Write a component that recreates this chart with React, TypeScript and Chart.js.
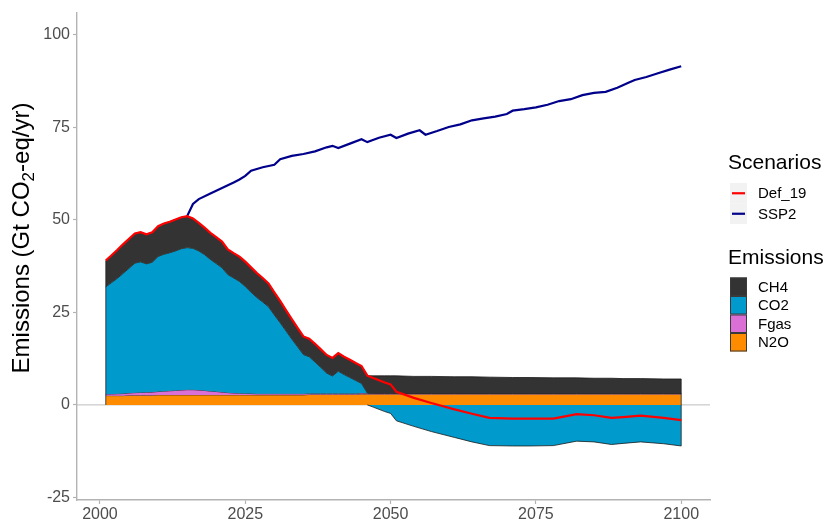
import { useEffect, useRef } from "react";
import { Chart, registerables } from "chart.js";

Chart.register(...registerables);

// ---------- data ----------
const years = [
  2001, 2002, 2003, 2004, 2005, 2006, 2007, 2008, 2009, 2010,
  2011, 2012, 2013, 2014, 2015, 2016, 2017, 2018, 2019, 2020,
  2021, 2022, 2023, 2024, 2025, 2026, 2027, 2028, 2029, 2030,
  2031, 2032, 2033, 2034, 2035, 2036, 2037, 2038, 2039, 2040,
  2041, 2042, 2043, 2044, 2045, 2046, 2047, 2048, 2049, 2050,
  2051, 2054, 2057, 2061, 2064, 2067, 2071, 2074, 2078, 2082,
  2085, 2088, 2090, 2093, 2097, 2100,
];

const n2o = [
  2.5, 2.5, 2.5, 2.5, 2.6, 2.6, 2.6, 2.6, 2.6, 2.7,
  2.7, 2.7, 2.7, 2.7, 2.7, 2.7, 2.7, 2.7, 2.7, 2.7,
  2.7, 2.7, 2.7, 2.7, 2.7, 2.7, 2.7, 2.7, 2.7, 2.7,
  2.7, 2.7, 2.7, 2.7, 2.7, 2.8, 2.8, 2.8, 2.8, 2.8,
  2.8, 2.8, 2.8, 2.8, 2.9, 2.9, 2.9, 2.9, 2.9, 2.9,
  2.9, 2.9, 2.9, 2.9, 2.9, 2.9, 2.9, 2.9, 2.9, 2.9,
  2.9, 2.9, 2.9, 2.9, 2.9, 2.9,
];

const fgas = [
  0.4, 0.45, 0.5, 0.55, 0.6, 0.7, 0.75, 0.8, 0.85, 0.9,
  1.0, 1.1, 1.2, 1.3, 1.4, 1.4, 1.3, 1.2, 1.0, 0.9,
  0.75, 0.6, 0.5, 0.45, 0.4, 0.35, 0.3, 0.3, 0.3, 0.3,
  0.3, 0.3, 0.3, 0.3, 0.3, 0.3, 0.3, 0.3, 0.3, 0.3,
  0.3, 0.3, 0.3, 0.3, 0.3, 0.25, 0.25, 0.25, 0.25, 0.25,
  0.25, 0.2, 0.2, 0.2, 0.2, 0.2, 0.2, 0.2, 0.2, 0.2,
  0.2, 0.2, 0.2, 0.2, 0.2, 0.2,
];

const co2 = [
  29.0, 30.1, 31.2, 32.5, 33.7, 35.0, 35.3, 34.7, 35.1, 36.5,
  37.0, 37.3, 37.7, 38.2, 38.4, 38.2, 37.6, 36.7, 35.6, 34.6,
  33.6, 31.9, 31.1, 30.2, 28.9, 27.4, 26.0, 24.8, 23.5, 21.3,
  19.2, 17.0, 14.8, 12.7, 10.6, 9.9, 8.5, 7.0, 5.5, 4.7,
  6.0, 5.1, 4.3, 3.5, 2.6, 0.05, -0.6, -1.2, -1.8, -2.3,
  -4.3, -5.8, -7.2, -8.8, -10.0, -11.0, -11.1, -11.1, -11.0, -9.8,
  -10.0, -10.7, -10.4, -10.0, -10.5, -11.1,
];

const ch4 = [
  7.1, 7.4, 7.7, 7.9, 8.0, 8.0, 8.0, 8.0, 8.1, 8.2,
  8.3, 8.4, 8.5, 8.5, 8.5, 8.1, 7.6, 7.3, 7.2, 7.1,
  7.1, 6.8, 6.7, 6.7, 6.7, 6.7, 6.6, 6.5, 6.3, 6.1,
  5.9, 5.6, 5.4, 5.1, 4.9, 4.9, 4.9, 4.9, 4.9, 4.9,
  4.9, 4.8, 4.8, 4.7, 4.7, 4.7, 4.7, 4.7, 4.7, 4.7,
  4.7, 4.6, 4.6, 4.5, 4.5, 4.4, 4.3, 4.3, 4.2, 4.2,
  4.1, 4.1, 4.0, 4.0, 3.9, 3.9,
];

const sspYears = [
  2015, 2016, 2017, 2019, 2021, 2023, 2024, 2025, 2026, 2028,
  2030, 2031, 2033, 2035, 2037, 2039, 2040, 2041, 2043, 2045,
  2046, 2048, 2050, 2051, 2053, 2055, 2056, 2058, 2060, 2062,
  2064, 2066, 2068, 2070, 2071, 2073, 2075, 2077, 2079, 2081,
  2083, 2085, 2087, 2089, 2091, 2092, 2094, 2096, 2098, 2100,
];
const ssp2 = [
  51.0, 54.3, 55.6, 57.1, 58.6, 60.1, 60.9, 61.9, 63.3, 64.2,
  64.9, 66.4, 67.3, 67.8, 68.5, 69.6, 70.0, 69.4, 70.6, 71.8,
  71.0, 72.2, 73.0, 72.1, 73.3, 74.2, 73.0, 74.0, 75.1, 75.8,
  76.9, 77.4, 77.9, 78.6, 79.5, 79.9, 80.4, 81.1, 82.1, 82.6,
  83.7, 84.3, 84.6, 85.7, 87.1, 87.8, 88.6, 89.6, 90.6, 91.5,
];

const xTicks = [2000, 2025, 2050, 2075, 2100];
const yTicks = [-25, 0, 25, 50, 75, 100];

const scenarioNames = ["Def_19", "SSP2"];
const scenarioColors = ["#FF0000", "#00008B"];
const gasNames = ["CH4", "CO2", "Fgas", "N2O"];
const gasColors = ["#333333", "#009ACD", "#DA70D6", "#FF8C00"];

const FONT = '"Liberation Sans", Arial, Helvetica, sans-serif';

export default function App() {
  const ref = useRef<HTMLCanvasElement>(null);

  useEffect(() => {
    if (!ref.current) return;
    const pts = (ys: (number | null)[], xs: number[] = years) =>
      xs.map((x, i) => ({ x, y: ys[i] }));

    const b1 = n2o.slice();
    const b2 = n2o.map((v, i) => v + fgas[i]);
    const b3 = b2.map((v, i) => v + Math.max(co2[i], 0));
    const b4 = b3.map((v, i) => v + ch4[i]);
    const neg = co2.map((v, i) =>
      v < 0 || (i + 1 < co2.length && co2[i + 1] < 0) ? Math.min(v, 0) : null
    );
    const def19 = years.map((_, i) => n2o[i] + fgas[i] + co2[i] + ch4[i]);

    const outline = "#1a1a1a";
    const areaBase = {
      borderColor: outline,
      borderWidth: 0.8,
      pointRadius: 0,
      tension: 0,
    };

    const decor = {
      id: "decor",
      beforeDatasetsDraw(chart: any) {
        const { ctx, chartArea, scales } = chart;
        const y0 = scales.y.getPixelForValue(0);
        ctx.save();
        ctx.strokeStyle = "#bdbdbd";
        ctx.lineWidth = 1;
        ctx.beginPath();
        ctx.moveTo(chartArea.left, y0);
        ctx.lineTo(chartArea.right, y0);
        ctx.stroke();
        ctx.restore();
      },
      afterDatasetDraw(chart: any, args: any) {
        if (args.index !== 4) return;
        const { ctx, scales } = chart;
        const n = years.length - 1;
        ctx.save();
        ctx.strokeStyle = outline;
        ctx.lineWidth = 0.8;
        const edge = (i: number) => {
          const x = scales.x.getPixelForValue(years[i]);
          ctx.beginPath();
          ctx.moveTo(x, scales.y.getPixelForValue(Math.min(co2[i], 0)));
          ctx.lineTo(x, scales.y.getPixelForValue(b4[i]));
          ctx.stroke();
        };
        edge(0);
        edge(n);
        ctx.restore();
      },
      afterDraw(chart: any) {
        const { ctx } = chart;
        ctx.save();
        // y-axis title with subscript
        const big = 24;
        const small = 17;
        const p1 = "Emissions (Gt CO";
        const p2 = "2";
        const p3 = "-eq/yr)";
        ctx.font = `${big}px ${FONT}`;
        const w1 = ctx.measureText(p1).width;
        const w3 = ctx.measureText(p3).width;
        ctx.font = `${small}px ${FONT}`;
        const w2 = ctx.measureText(p2).width;
        const total = w1 + w2 + w3;
        ctx.translate(29, 238);
        ctx.rotate(-Math.PI / 2);
        ctx.fillStyle = "#000";
        ctx.textBaseline = "alphabetic";
        ctx.textAlign = "left";
        let x = -total / 2;
        ctx.font = `${big}px ${FONT}`;
        ctx.fillText(p1, x, 0);
        x += w1;
        ctx.font = `${small}px ${FONT}`;
        ctx.fillText(p2, x, 5);
        x += w2;
        ctx.font = `${big}px ${FONT}`;
        ctx.fillText(p3, x, 0);
        ctx.restore();

        // legend
        ctx.save();
        ctx.fillStyle = "#000";
        ctx.textAlign = "left";
        ctx.textBaseline = "alphabetic";
        ctx.font = `21px ${FONT}`;
        ctx.fillText("Scenarios", 728, 169);
        ctx.textBaseline = "middle";
        scenarioNames.forEach((name, i) => {
          const top = 183 + i * 20.5;
          ctx.fillStyle = "#f2f2f2";
          ctx.fillRect(730, top, 17, 20.5);
          ctx.strokeStyle = scenarioColors[i];
          ctx.lineWidth = 2.2;
          ctx.beginPath();
          ctx.moveTo(732, top + 10.25);
          ctx.lineTo(745, top + 10.25);
          ctx.stroke();
          ctx.fillStyle = "#000";
          ctx.font = `15px ${FONT}`;
          ctx.fillText(name, 758, top + 11);
        });
        ctx.textBaseline = "alphabetic";
        ctx.font = `21px ${FONT}`;
        ctx.fillText("Emissions", 728, 264);
        ctx.textBaseline = "middle";
        gasNames.forEach((name, i) => {
          const top = 277.5 + i * 18.5;
          ctx.fillStyle = gasColors[i];
          ctx.fillRect(730, top, 17, 18.5);
          ctx.strokeStyle = "#3a3a3a";
          ctx.lineWidth = 1;
          ctx.strokeRect(730.5, top + 0.5, 16, 17.5);
          ctx.fillStyle = "#000";
          ctx.font = `15px ${FONT}`;
          ctx.fillText(name, 758, top + 10);
        });
        ctx.restore();
      },
    };

    const axisGray = "#b3b3b3";
    const tickFont = { family: FONT, size: 16 };

    const chart = new Chart(ref.current, {
      type: "line",
      data: {
        datasets: [
          { ...areaBase, label: "N2O", data: pts(b1), fill: "origin", backgroundColor: gasColors[3], order: 10 },
          { ...areaBase, label: "Fgas", data: pts(b2), fill: 0, backgroundColor: gasColors[2], order: 9 },
          { ...areaBase, label: "CO2", data: pts(b3), fill: 1, backgroundColor: gasColors[1], order: 8 },
          { ...areaBase, label: "CH4", data: pts(b4), fill: 2, backgroundColor: gasColors[0], order: 7 },
          { ...areaBase, label: "CO2 neg", data: pts(neg), fill: "origin", backgroundColor: gasColors[1], order: 6 },
          { label: "Def_19", data: pts(def19), borderColor: scenarioColors[0], borderWidth: 2.2, pointRadius: 0, fill: false, order: 0 },
          { label: "SSP2", data: pts(ssp2, sspYears), borderColor: scenarioColors[1], borderWidth: 2.2, pointRadius: 0, fill: false, order: 1 },
        ] as any,
      },
      options: {
        animation: false,
        responsive: true,
        maintainAspectRatio: false,
        layout: { padding: { left: 0, right: 118, top: 3, bottom: 0 } },
        plugins: { legend: { display: false }, tooltip: { enabled: false } },
        elements: { line: { tension: 0 }, point: { radius: 0 } },
        scales: {
          x: {
            type: "linear",
            min: 1996.05,
            max: 2104.95,
            afterFit: (s: any) => { s.height = 24; },
            afterBuildTicks: (s: any) => { s.ticks = xTicks.map((v) => ({ value: v })); },
            ticks: {
              autoSkip: false,
              maxRotation: 0,
              padding: 1,
              color: "#4d4d4d",
              font: tickFont,
              callback: (v: any) => String(v),
            },
            grid: { drawOnChartArea: false, drawTicks: true, tickLength: 4, color: axisGray, tickWidth: 1.2 },
            border: { display: true, color: axisGray, width: 1.4 },
          },
          y: {
            type: "linear",
            min: -25.7,
            max: 106,
            afterFit: (s: any) => { s.width = 77; },
            afterBuildTicks: (s: any) => { s.ticks = yTicks.map((v) => ({ value: v })); },
            ticks: {
              autoSkip: false,
              padding: 3,
              color: "#4d4d4d",
              font: tickFont,
              callback: (v: any) => String(v),
            },
            grid: { drawOnChartArea: false, drawTicks: true, tickLength: 4, color: axisGray, tickWidth: 1.2 },
            border: { display: true, color: axisGray, width: 1.4 },
          },
        },
      },
      plugins: [decor],
    });
    return () => chart.destroy();
  }, []);

  return (
    <div style={{ position: "absolute", left: 0, top: 0, width: 828, height: 524, background: "#fff" }}>
      <canvas ref={ref} />
    </div>
  );
}
